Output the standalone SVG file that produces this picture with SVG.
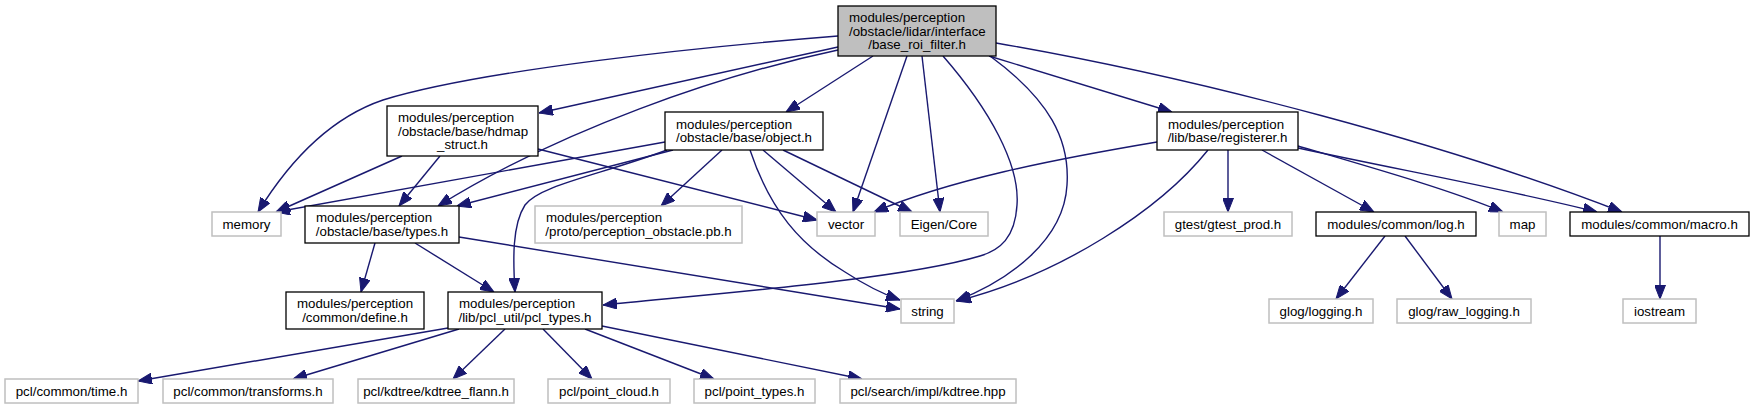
<svg xmlns="http://www.w3.org/2000/svg" width="1754" height="409" viewBox="0 0 1754 409">
<style>
.n rect{fill:#fff;stroke:#000;stroke-width:1.3}
.x rect{fill:#fff;stroke:#bfbfbf;stroke-width:1.5}
.r rect{fill:#bfbfbf;stroke:#000;stroke-width:1.3}
text{font-family:"Liberation Sans",Arial,Helvetica,sans-serif;font-size:13.3px;fill:#000}
.c{text-anchor:middle}
#edges path{fill:none;stroke:#191970;stroke-width:1.4;marker-end:url(#ah)}
</style>
<defs>
<marker id="ah" viewBox="0 0 14 11" refX="14" refY="5.5" markerWidth="14" markerHeight="11" markerUnits="userSpaceOnUse" orient="auto">
<path d="M0,0 L14,5.5 L0,11 z" fill="#191970" stroke="#191970" stroke-width="1"/>
</marker>
</defs>
<rect width="1754" height="409" fill="#fff"/>
<g id="edges">
<path d="M838,36 C700,47 480,70 383,100 C330,118 290,160 258,212"/>
<path d="M838,47 L539,113"/>
<path d="M838,50 C720,75 560,130 438,206"/>
<path d="M873,56 L786,112"/>
<path d="M907,56 L853,212"/>
<path d="M922,56 L940,212"/>
<path d="M943,56 C990,110 1020,165 1017,205 C1015,238 1000,250 980,256 C900,280 700,295 603,305"/>
<path d="M990,56 C1050,100 1070,140 1067,185 C1064,240 1010,280 956,301"/>
<path d="M989,56 L1172,112"/>
<path d="M996,43 C1200,78 1450,145 1622,212"/>
<path d="M402,156 L276,212"/>
<path d="M440,156 L399,206"/>
<path d="M538,149 L817,220"/>
<path d="M665,142 L276,212"/>
<path d="M673,150 L457,206"/>
<path d="M667,150 C600,175 540,185 525,205 C512,225 513,260 515,292"/>
<path d="M722,150 L661,206"/>
<path d="M763,150 L836,212"/>
<path d="M783,150 L912,212"/>
<path d="M750,150 C770,210 800,245 845,272 C865,285 880,293 900,300"/>
<path d="M375,243 L361,292"/>
<path d="M415,243 L494,292"/>
<path d="M459,237 L900,309"/>
<path d="M1157,142 C1050,160 950,180 874,212"/>
<path d="M1208,150 C1160,210 1060,275 957,301"/>
<path d="M1228,150 L1228,212"/>
<path d="M1262,150 L1374,212"/>
<path d="M1298,146 C1380,170 1450,190 1503,212"/>
<path d="M1298,148 C1400,170 1510,190 1597,212"/>
<path d="M1385,236 L1336,299"/>
<path d="M1405,236 L1452,299"/>
<path d="M1660,236 L1660,299"/>
<path d="M448,328 L138,381"/>
<path d="M459,329 L293,379"/>
<path d="M505,329 L453,379"/>
<path d="M543,329 L592,379"/>
<path d="M585,329 L714,379"/>
<path d="M602,326 L862,379"/>
</g>
<g id="root" class="r"><rect x="838" y="6" width="158" height="50"/><text x="849" y="22.2">modules/perception</text><text x="849" y="35.6">/obstacle/lidar/interface</text><text class="c" x="917" y="49">/base_roi_filter.h</text></g>
<g id="hdmap" class="n"><rect x="387" y="106" width="151" height="50"/><text x="398" y="122.2">modules/perception</text><text x="398" y="135.6">/obstacle/base/hdmap</text><text class="c" x="462.5" y="149">_struct.h</text></g>
<g id="object" class="n"><rect x="665" y="112" width="158" height="38"/><text x="676" y="128.9">modules/perception</text><text class="c" x="744" y="142.3">/obstacle/base/object.h</text></g>
<g id="registerer" class="n"><rect x="1157" y="112" width="141" height="38"/><text x="1168" y="128.9">modules/perception</text><text class="c" x="1227.5" y="142.3">/lib/base/registerer.h</text></g>
<g id="memory" class="x"><rect x="212" y="212" width="69" height="24"/><text class="c" x="246.5" y="228.6">memory</text></g>
<g id="types" class="n"><rect x="305" y="206" width="154" height="37"/><text x="316" y="222.4">modules/perception</text><text class="c" x="382" y="235.8">/obstacle/base/types.h</text></g>
<g id="proto" class="x"><rect x="535" y="206" width="207" height="37"/><text x="546" y="222.4">modules/perception</text><text class="c" x="638.5" y="235.8">/proto/perception_obstacle.pb.h</text></g>
<g id="vector" class="x"><rect x="817" y="212" width="58" height="24"/><text class="c" x="846" y="228.6">vector</text></g>
<g id="eigen" class="x"><rect x="900" y="212" width="88" height="24"/><text class="c" x="944" y="228.6">Eigen/Core</text></g>
<g id="gtest" class="x"><rect x="1164" y="212" width="128" height="24"/><text class="c" x="1228" y="228.6">gtest/gtest_prod.h</text></g>
<g id="log" class="n"><rect x="1316" y="212" width="160" height="24"/><text class="c" x="1396" y="228.6">modules/common/log.h</text></g>
<g id="map" class="x"><rect x="1499" y="212" width="47" height="24"/><text class="c" x="1522.5" y="228.6">map</text></g>
<g id="macro" class="n"><rect x="1570" y="212" width="179" height="24"/><text class="c" x="1659.5" y="228.6">modules/common/macro.h</text></g>
<g id="define" class="n"><rect x="286" y="292" width="138" height="37"/><text x="297" y="308.4">modules/perception</text><text class="c" x="355" y="321.8">/common/define.h</text></g>
<g id="pcl_types" class="n"><rect x="448" y="292" width="154" height="37"/><text x="459" y="308.4">modules/perception</text><text class="c" x="525" y="321.8">/lib/pcl_util/pcl_types.h</text></g>
<g id="string" class="x"><rect x="901" y="299" width="53" height="24"/><text class="c" x="927.5" y="315.6">string</text></g>
<g id="glog_logging" class="x"><rect x="1269" y="299" width="104" height="24"/><text class="c" x="1321" y="315.6">glog/logging.h</text></g>
<g id="glog_raw" class="x"><rect x="1397" y="299" width="134" height="24"/><text class="c" x="1464" y="315.6">glog/raw_logging.h</text></g>
<g id="iostream" class="x"><rect x="1623" y="299" width="73" height="24"/><text class="c" x="1659.5" y="315.6">iostream</text></g>
<g id="time" class="x"><rect x="5" y="379" width="133" height="24"/><text class="c" x="71.5" y="395.6">pcl/common/time.h</text></g>
<g id="transforms" class="x"><rect x="163" y="379" width="170" height="24"/><text class="c" x="248" y="395.6">pcl/common/transforms.h</text></g>
<g id="kdtree_flann" class="x"><rect x="358" y="379" width="156" height="24"/><text class="c" x="436" y="395.6">pcl/kdtree/kdtree_flann.h</text></g>
<g id="point_cloud" class="x"><rect x="548" y="379" width="122" height="24"/><text class="c" x="609" y="395.6">pcl/point_cloud.h</text></g>
<g id="point_types" class="x"><rect x="694" y="379" width="121" height="24"/><text class="c" x="754.5" y="395.6">pcl/point_types.h</text></g>
<g id="kdtree_hpp" class="x"><rect x="840" y="379" width="176" height="24"/><text class="c" x="928" y="395.6">pcl/search/impl/kdtree.hpp</text></g>
</svg>
